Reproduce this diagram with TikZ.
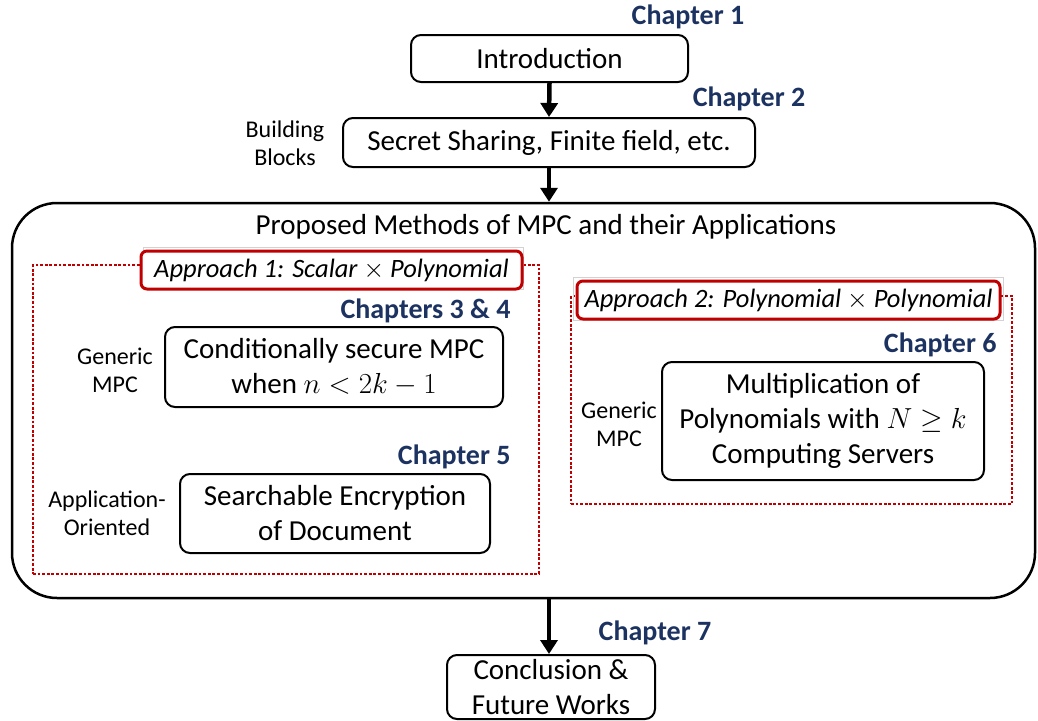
\RequirePackage{fix-cm}
\documentclass[tikz,border=0pt]{standalone}
\usepackage{fontspec}
\setmainfont{Carlito}
\usetikzlibrary{arrows.meta}
\definecolor{chapblue}{RGB}{28,50,96}
\definecolor{apred}{RGB}{192,0,0}
\begin{document}
\begin{tikzpicture}[x=1pt,y=-1pt,
    box/.style={draw,line width=2pt,rounded corners=10pt,inner sep=0pt,
        align=center,font=\fontsize{29}{35}\selectfont},
    chap/.style={text=chapblue,font=\fontsize{28}{32}\selectfont\bfseries},
    side/.style={align=center,font=\fontsize{24}{28}\selectfont},
    approach/.style={draw=apred,fill=white,line width=3pt,rounded corners=6pt,
        inner sep=0pt,font=\fontsize{26.5}{30}\selectfont\itshape},
    frame/.style={draw=gray!35,line width=0.8pt,inner sep=0pt},
    group/.style={draw=apred,line width=2.8pt,dash pattern=on 2.8pt off 1.8pt,inner sep=0pt},
    flow/.style={line width=4.5pt,-{Triangle[length=14pt,width=17pt]}}]
\useasboundingbox (0,0) rectangle (1038,720);

\node[box,minimum width=277,minimum height=47] (intro) at (549.5,58.5) {Introduction};
\node[chap] (ch1) at (688,17) {Chapter 1};
\node[box,minimum width=412,minimum height=49] (blocks) at (549,142.5)
    {Secret Sharing, Finite field, etc.};
\node[chap] (ch2) at (749,99) {Chapter 2};
\node[side] (build) at (285,143) {Building\\Blocks};

\node[draw,line width=2.5pt,rounded corners=45pt,inner sep=0pt,
    minimum width=1023,minimum height=395] (mpc) at (523.5,400.5) {};
\node[font=\fontsize{29}{35}\selectfont] (title) at (546,227)
    {Proposed Methods of MPC and their Applications};

\node[group,minimum width=506,minimum height=309] (grp1) at (286,419.5) {};
\node[frame,minimum width=380,minimum height=42] (fr1) at (333.5,268) {};
\node[approach,minimum width=381,minimum height=38] (ap1) at (331.5,270)
    {Approach 1: Scalar $\times$ Polynomial};
\node[chap,anchor=east] (ch34) at (514,311) {Chapters 3 \& 4};
\node[side] (gen1) at (115,370) {Generic\\MPC};
\node[box,minimum width=338,minimum height=80] (cond) at (334,367)
    {Conditionally secure MPC\\when $n<2k-1$};
\node[chap,anchor=east] (ch5) at (514,457) {Chapter 5};
\node[side] (appl) at (107,513) {Application-\\Oriented};
\node[box,minimum width=310,minimum height=79] (search) at (335,513.5)
    {Searchable Encryption\\of Document};

\node[group,minimum width=441,minimum height=208] (grp2) at (791.5,400) {};
\node[frame,minimum width=430,minimum height=43] (fr2) at (788.5,298.5) {};
\node[approach,minimum width=423,minimum height=38] (ap2) at (788.5,300)
    {Approach 2: Polynomial $\times$ Polynomial};
\node[chap,anchor=east] (ch6) at (1000,345) {Chapter 6};
\node[side] (gen2) at (619,424) {Generic\\MPC};
\node[box,minimum width=322,minimum height=118] (mult) at (823,421)
    {Multiplication of\\Polynomials with $N\geq k$\\Computing Servers};

\node[box,minimum width=208,minimum height=64] (concl) at (551,687)
    {Conclusion \&\\Future Works};
\node[chap] (ch7) at (655,633) {Chapter 7};

\draw[flow] (intro.south) -- (blocks.north);
\draw[flow] (blocks.south) -- (blocks.south |- mpc.north);
\draw[flow] (blocks.south |- mpc.south) -- (blocks.south |- concl.north);
\end{tikzpicture}
\end{document}
